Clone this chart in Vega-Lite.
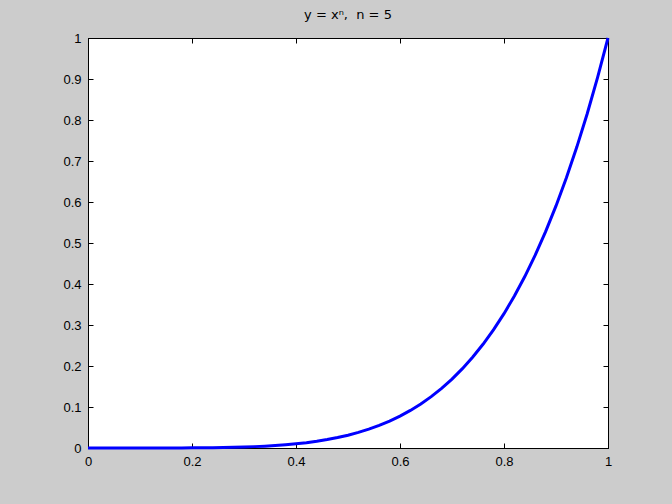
{
  "$schema": "https://vega.github.io/schema/vega-lite/v6.json",
  "width": 520,
  "height": 410,
  "autosize": "none",
  "padding": {"left": 88, "top": 38, "right": 64, "bottom": 56},
  "background": "#cccccc",
  "title": {
    "text": "y = xⁿ,\u00a0 n = 5",
    "fontSize": 13,
    "fontWeight": "normal",
    "font": "DejaVu Sans",
    "color": "#000000",
    "offset": 10
  },
  "data": {
    "values": [
      {"x": 0, "y": 0}, {"x": 0.02, "y": 0.0000000032}, {"x": 0.04, "y": 0.0000001024},
      {"x": 0.06, "y": 0.0000007776}, {"x": 0.08, "y": 0.0000032768}, {"x": 0.1, "y": 0.00001},
      {"x": 0.12, "y": 0.0000249}, {"x": 0.14, "y": 0.0000538}, {"x": 0.16, "y": 0.000105},
      {"x": 0.18, "y": 0.000189}, {"x": 0.2, "y": 0.00032}, {"x": 0.22, "y": 0.000515},
      {"x": 0.24, "y": 0.000796}, {"x": 0.26, "y": 0.001188}, {"x": 0.28, "y": 0.001721},
      {"x": 0.3, "y": 0.00243}, {"x": 0.32, "y": 0.003355}, {"x": 0.34, "y": 0.004544},
      {"x": 0.36, "y": 0.006047}, {"x": 0.38, "y": 0.007924}, {"x": 0.4, "y": 0.01024},
      {"x": 0.42, "y": 0.013069}, {"x": 0.44, "y": 0.016492}, {"x": 0.46, "y": 0.020596},
      {"x": 0.48, "y": 0.02548}, {"x": 0.5, "y": 0.03125}, {"x": 0.52, "y": 0.03802},
      {"x": 0.54, "y": 0.045917}, {"x": 0.56, "y": 0.055073}, {"x": 0.58, "y": 0.065636},
      {"x": 0.6, "y": 0.07776}, {"x": 0.62, "y": 0.091613}, {"x": 0.64, "y": 0.107374},
      {"x": 0.66, "y": 0.125233}, {"x": 0.68, "y": 0.145393}, {"x": 0.7, "y": 0.16807},
      {"x": 0.72, "y": 0.193492}, {"x": 0.74, "y": 0.221901}, {"x": 0.76, "y": 0.253553},
      {"x": 0.78, "y": 0.288717}, {"x": 0.8, "y": 0.32768}, {"x": 0.82, "y": 0.37074},
      {"x": 0.84, "y": 0.418212}, {"x": 0.86, "y": 0.470427}, {"x": 0.88, "y": 0.527732},
      {"x": 0.9, "y": 0.59049}, {"x": 0.92, "y": 0.659082}, {"x": 0.94, "y": 0.733904},
      {"x": 0.96, "y": 0.815373}, {"x": 0.98, "y": 0.903921}, {"x": 1, "y": 1}
    ]
  },
  "layer": [
    {
      "mark": {"type": "line", "stroke": "#0000ff", "strokeWidth": 3},
      "encoding": {
        "x": {
          "field": "x",
          "type": "quantitative",
          "scale": {"domain": [0, 1], "nice": false},
          "axis": {"values": [0, 0.2, 0.4, 0.6, 0.8, 1], "orient": "bottom", "labelPadding": 12, "format": "~g"}
        },
        "y": {
          "field": "y",
          "type": "quantitative",
          "scale": {"domain": [0, 1], "nice": false},
          "axis": {"values": [0, 0.1, 0.2, 0.3, 0.4, 0.5, 0.6, 0.7, 0.8, 0.9, 1], "orient": "left", "labelPadding": 12, "format": "~g"}
        }
      }
    },
    {
      "mark": {"type": "line", "opacity": 0},
      "encoding": {
        "x": {
          "field": "x",
          "type": "quantitative",
          "axis": {"values": [0, 0.2, 0.4, 0.6, 0.8, 1], "orient": "top", "labels": false}
        },
        "y": {
          "field": "y",
          "type": "quantitative",
          "axis": {"values": [0, 0.1, 0.2, 0.3, 0.4, 0.5, 0.6, 0.7, 0.8, 0.9, 1], "orient": "right", "labels": false}
        }
      }
    }
  ],
  "resolve": {"axis": {"x": "independent", "y": "independent"}},
  "config": {
    "view": {"fill": "#ffffff", "stroke": "#000000", "strokeWidth": 1},
    "axis": {
      "title": null,
      "grid": false,
      "domainColor": "#000000",
      "tickColor": "#000000",
      "tickSize": -5,
      "labelColor": "#000000",
      "labelFont": "Liberation Sans",
      "labelFontSize": 13,
      "labelFlush": false,
      "labelOverlap": false
    }
  }
}
